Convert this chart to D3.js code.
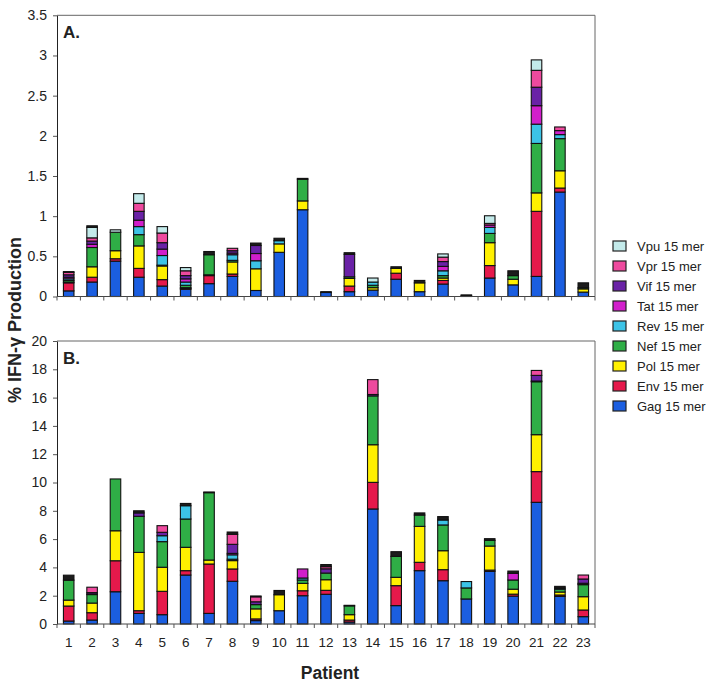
<!DOCTYPE html>
<html>
<head>
<meta charset="utf-8">
<script src="https://cdn.jsdelivr.net/npm/d3@7/dist/d3.min.js"></script>
<style>
  html, body { margin: 0; padding: 0; background: #fff; }
  svg { display: block; font-family: Arial, "Liberation Sans", sans-serif; }
</style>
</head>
<body>
<svg id="chart" width="714" height="687"></svg>
<script>
// ---------------- DATA ----------------
const patients = ["1","2","3","4","5","6","7","8","9","10","11","12","13","14","15","16","17","18","19","20","21","22","23"];
const seriesKeys = ["Gag","Env","Pol","Nef","Rev","Tat","Vif","Vpr","Vpu","Other"];
const legendLabels = ["Vpu 15 mer","Vpr 15 mer","Vif 15 mer","Tat 15 mer","Rev 15 mer","Nef 15 mer","Pol 15 mer","Env 15 mer","Gag 15 mer"];
const legendKeys = ["Vpu","Vpr","Vif","Tat","Rev","Nef","Pol","Env","Gag"];

// Panel A values (% IFN-γ)
const gagA   = [0.07,0.18,0.44,0.24,0.13,0.09,0.16,0.25,0.075,0.55,1.08,0.05,0.06,0.08,0.215,0.06,0.155,0.01,0.23,0.145,0.25,1.30,0.055];
const envA   = [0.10,0.06,0.03,0.11,0.08,0.01,0.10,0.03,0,0,0,0,0.07,0,0.075,0,0.045,0,0.155,0,0.81,0.05,0];
const polA   = [0.01,0.13,0.10,0.28,0.17,0.01,0.01,0.15,0.27,0.105,0.11,0,0.095,0.03,0.06,0.11,0.03,0,0.285,0.07,0.23,0.215,0.04];
const nefA   = [0.02,0.24,0.23,0.14,0.01,0.03,0.25,0.02,0,0,0.27,0,0.02,0.03,0,0,0.03,0,0.115,0.045,0.615,0.40,0.015];
const revA   = [0.02,0,0,0.10,0.12,0.04,0,0.07,0.10,0.04,0,0,0,0.04,0,0,0.06,0,0.075,0,0.24,0.05,0];
const tatA   = [0.02,0.04,0,0.08,0.08,0.04,0,0.02,0.09,0,0,0,0,0,0,0,0.055,0,0.03,0,0.23,0.05,0];
const vifA   = [0.03,0.04,0,0.11,0.08,0.04,0,0.03,0.10,0,0,0,0.28,0,0,0,0.06,0,0,0,0.23,0,0];
const vprA   = [0.03,0.04,0,0.10,0.12,0.06,0,0.03,0,0,0,0,0,0,0,0,0.055,0,0.02,0,0.21,0.045,0];
const vpuA   = [0.01,0.13,0.03,0.12,0.08,0.04,0,0,0,0,0,0,0,0.05,0,0,0.04,0,0.095,0,0.13,0,0];
const otherA = [0,0.02,0,0,0,0,0.04,0,0.03,0.03,0.01,0.01,0.02,0,0.02,0.03,0,0.01,0,0.06,0,0,0.06];

// Panel B values (% IFN-γ)
const gagB   = [0.21,0.28,2.28,0.75,0.66,3.46,0.75,3.02,0.24,0.94,2.0,2.1,0.14,8.13,1.3,3.77,3.06,1.77,3.72,1.97,8.6,1.95,0.52];
const envB   = [1.06,0.52,2.19,0.19,1.65,0.31,3.49,0.87,0.12,0,0.35,0.28,0.14,1.88,1.41,0.59,0.78,0,0.09,0.14,2.17,0.1,0.47];
const polB   = [0.42,0.68,2.12,4.12,1.7,1.65,0.28,0.59,0.71,1.13,0.52,0.75,0.38,2.66,0.59,2.54,1.34,0,1.7,0.35,2.61,0.21,0.94];
const nefB   = [1.41,0.6,3.66,2.55,1.81,2.0,4.76,0.1,0.3,0,0.24,0.47,0.62,3.45,1.48,0.8,1.82,0.78,0.4,0.65,3.74,0.2,0.85];
const revB   = [0,0.04,0,0,0.42,0.94,0,0.31,0,0,0.14,0,0.04,0,0,0,0.35,0.45,0,0,0,0.08,0.05];
const tatB   = [0,0,0,0,0,0,0,0.1,0,0,0.64,0,0,0,0,0,0,0,0,0.47,0.05,0,0.05];
const vifB   = [0,0.1,0,0.24,0.24,0,0,0.64,0.2,0,0,0.3,0,0.1,0,0,0,0,0,0,0.4,0,0.3];
const vprB   = [0,0.38,0,0,0.47,0,0,0.71,0.35,0,0,0.15,0,1.05,0,0,0,0,0,0,0.35,0,0.28];
const vpuB   = [0,0,0,0,0,0,0,0,0,0,0,0,0,0,0,0,0,0,0,0,0,0,0];
const otherB = [0.35,0,0,0.15,0,0.16,0.05,0.16,0.06,0.3,0,0.15,0,0,0.33,0.15,0.24,0,0.12,0.16,0,0.12,0];

const yTicksA = [0,0.5,1,1.5,2,2.5,3,3.5];
const yTickLabelsA = ["0","0.5","1","1.5","2","2.5","3","3.5"];
const yTicksB = [0,2,4,6,8,10,12,14,16,18,20];
const yTickLabelsB = ["0","2","4","6","8","10","12","14","16","18","20"];

const colors = {
  Gag: "#1b5ee0", Env: "#e5194b", Pol: "#fff000", Nef: "#2fae46", Rev: "#3cc3e6",
  Tat: "#d11fcb", Vif: "#6a22a6", Vpr: "#ee4a9e", Vpu: "#c3eaea", Other: "#1c1c1c"
};

// ---------------- BUILD TABLES ----------------
function table(cols) {
  return patients.map((p, i) => {
    const row = { patient: p };
    seriesKeys.forEach((k, j) => row[k] = cols[j][i]);
    return row;
  });
}
const dataA = table([gagA, envA, polA, nefA, revA, tatA, vifA, vprA, vpuA, otherA]);
const dataB = table([gagB, envB, polB, nefB, revB, tatB, vifB, vprB, vpuB, otherB]);

// ---------------- DRAW ----------------
const svg = d3.select("#chart");
const left = 57, right = 595;

const x = d3.scaleBand().domain(patients).range([left, right]).paddingInner(0.55).paddingOuter(0.275);
const stack = d3.stack().keys(seriesKeys);

function panel(data, top, bottom, max, ticks, tickLabels, letter, showX) {
  const y = d3.scaleLinear().domain([0, max]).range([bottom, top]);
  const g = svg.append("g");

  g.append("path")
    .attr("d", `M${left},${top}H${right}V${bottom}`)
    .attr("fill", "none").attr("stroke", "#666").attr("stroke-width", 1);

  const layers = stack(data);
  g.selectAll("g.layer").data(layers).join("g")
    .attr("class", "layer")
    .attr("fill", d => colors[d.key])
    .selectAll("rect").data(d => d.filter(s => s[1] - s[0] > 0)).join("rect")
    .attr("x", d => x(d.data.patient))
    .attr("width", x.bandwidth())
    .attr("y", d => y(d[1]))
    .attr("height", d => y(d[0]) - y(d[1]))
    .attr("stroke", "#111").attr("stroke-width", 1.1);

  const ya = g.append("g").attr("transform", `translate(${left},0)`)
    .call(d3.axisLeft(y).tickValues(ticks).tickFormat((d, i) => tickLabels[i]).tickSize(4).tickPadding(6).tickSizeOuter(0));
  ya.selectAll("text").attr("font-size", 14).attr("fill", "#222").attr("font-family", "Arial, 'Liberation Sans', sans-serif");
  ya.select(".domain").attr("stroke", "#222");
  ya.selectAll(".tick line").attr("stroke", "#555");

  g.append("line").attr("x1", left).attr("x2", right).attr("y1", bottom).attr("y2", bottom).attr("stroke", "#444");
  const bounds = d3.range(patients.length + 1).map(i => left + i * x.step());
  g.selectAll("line.bt").data(bounds).join("line").attr("class", "bt")
    .attr("x1", d => d).attr("x2", d => d).attr("y1", bottom).attr("y2", bottom + 4)
    .attr("stroke", "#555");

  if (showX) {
    g.selectAll("text.xl").data(patients).join("text").attr("class", "xl")
      .attr("x", d => x(d) + x.bandwidth() / 2)
      .attr("y", bottom + 23)
      .attr("text-anchor", "middle")
      .attr("font-size", 13.5).attr("fill", "#222")
      .text(d => d);
  }

  g.append("text").attr("x", 63).attr("y", top + 23)
    .attr("font-size", 17).attr("font-weight", "bold").attr("fill", "#222").text(letter);
}

panel(dataA, 15.3, 296.5, 3.5, yTicksA, yTickLabelsA, "A.", false);
panel(dataB, 341, 624, 20, yTicksB, yTickLabelsB, "B.", true);

svg.append("text").attr("x", (left + right) / 2 + 4).attr("y", 679)
  .attr("text-anchor", "middle").attr("font-size", 17.5).attr("font-weight", "bold").attr("fill", "#222")
  .text("Patient");
svg.append("text").attr("transform", "translate(21,320) rotate(-90)")
  .attr("text-anchor", "middle").attr("font-size", 18).attr("font-weight", "bold").attr("fill", "#222")
  .text("% IFN-γ Production");

const lg = svg.append("g").selectAll("g").data(legendKeys).join("g")
  .attr("transform", (d, i) => `translate(613,${246 + i * 20})`);
lg.append("rect").attr("x", 0).attr("y", -5).attr("width", 13).attr("height", 10)
  .attr("fill", d => colors[d]).attr("stroke", "#222").attr("stroke-width", 1.2);
lg.append("text").attr("x", 24).attr("y", 0).attr("dy", "0.35em")
  .attr("font-size", 13).attr("fill", "#222")
  .text((d, i) => legendLabels[i]);
</script>
</body>
</html>
